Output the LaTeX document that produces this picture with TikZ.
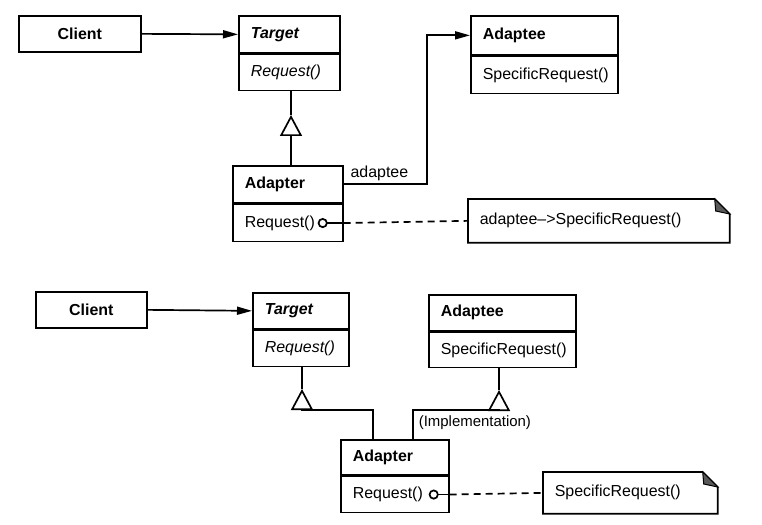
\documentclass[tikz,border=0pt]{standalone}
\usepackage{fontspec}
\setmainfont{Liberation Sans}
\usetikzlibrary{arrows.meta,positioning}

\newcommand{\drawnote}[1]{%
  \draw (#1.north west) -- ([xshift=-15bp]#1.north east) -- ([yshift=-15bp]#1.north east)
    -- (#1.south east) -- (#1.south west) -- cycle;
  \filldraw[fill=black!65, line width=1bp] ([xshift=-15bp]#1.north east)
    -- ([xshift=-14bp,yshift=-12bp]#1.north east) -- ([yshift=-15bp]#1.north east) -- cycle;
}

\begin{document}
\begin{tikzpicture}[
  x=1bp, y=-1bp,
  line width=1.7bp,
  every node/.style={font=\fontsize{16}{19}\selectfont, inner ysep=0pt},
  cbox/.style={draw, anchor=north west, inner xsep=12bp, align=left, text width=#1}, % class compartments
  nbox/.style={anchor=north west, inner xsep=11bp, align=left, text width=#1}, % notes
  assoc/.style={-{Triangle[length=15bp,width=8bp]}},
  inherit/.style={-{Triangle[open,length=21bp,width=22bp]}},
  ref/.style={{Circle[open,length=10bp]}-},
  refdash/.style={dash pattern=on 7bp off 5bp}
]
  \useasboundingbox (0,0) rectangle (762,525);

  % top: class adapter
  \node[cbox=98bp, align=center, minimum height=36bp] (cl1) at (18,15) {\textbf{Client}};
  \node[cbox=77bp, minimum height=37bp] (tgt1) at (238,15) {\textbf{\textit{Target}}};
  \node[cbox=77bp, minimum height=36bp] (tgt1op) at (tgt1.south west) {\textit{Request()}};
  \node[cbox=123bp, minimum height=39bp] (ade1) at (470,15) {\textbf{Adaptee}};
  \node[cbox=123bp, minimum height=37bp] (ade1op) at (ade1.south west) {SpecificRequest()};
  \node[cbox=86bp, minimum height=37bp] (adp1) at (232,165) {\textbf{Adapter}};
  \node[cbox=86bp, minimum height=37bp] (adp1op) at (adp1.south west) {Request()};
  \node[nbox=238bp, minimum height=42bp] (note1) at (468,199) {adaptee--\textgreater SpecificRequest()};
  \drawnote{note1}
  \node[anchor=south west, inner xsep=2bp, inner ysep=3bp] (lbl1) at ([xshift=4bp]adp1.east) {adaptee};

  \coordinate (inh1) at (291,115);
  \coordinate (turn1) at (427,0);
  \coordinate (dot1) at ([xshift=-26bp]adp1op.east);

  \draw[assoc] (cl1.east) -- (tgt1.west);
  \draw[inherit] (inh1 |- adp1.north) -- (inh1);
  \draw (inh1) -- (inh1 |- tgt1op.south);
  \draw[assoc] (adp1.east) -| (turn1 |- ade1.west) -- (ade1.west);
  \draw[ref] (dot1) -- (adp1op.east);
  \draw[refdash] (adp1op.east) -- (note1.west);

  % bottom: object adapter
  \node[cbox=87bp, align=center, minimum height=36bp] (cl2) at (35,291) {\textbf{Client}};
  \node[cbox=72bp, minimum height=36bp] (tgt2) at (252,292) {\textbf{\textit{Target}}};
  \node[cbox=72bp, minimum height=36bp] (tgt2op) at (tgt2.south west) {\textit{Request()}};
  \node[cbox=123bp, minimum height=36bp] (ade2) at (428,294) {\textbf{Adaptee}};
  \node[cbox=123bp, minimum height=35bp] (ade2op) at (ade2.south west) {SpecificRequest()};
  \node[cbox=84bp, minimum height=35bp] (adp2) at (340,439) {\textbf{Adapter}};
  \node[cbox=84bp, minimum height=36bp] (adp2op) at (adp2.south west) {Request()};
  \node[nbox=151bp, minimum height=40bp] (note2) at (543,472) {SpecificRequest()};
  \drawnote{note2}
  \node[anchor=north west, inner xsep=2bp, inner ysep=2bp, font=\fontsize{15}{18}\selectfont] (lbl2) at (416,413) {(Implementation)};

  \coordinate (inh2) at (302,389);
  \coordinate (inh3) at (499,390);
  \coordinate (dot2) at ([xshift=-21bp]adp2op.east);

  \draw[assoc] (cl2.east) -- (tgt2.west);
  \draw[inherit] ([xshift=-22bp]adp2.north) |- ([yshift=-21bp]inh2) -- (inh2);
  \draw (inh2) -- (inh2 |- tgt2op.south);
  \draw[inherit] ([xshift=18bp]adp2.north) |- ([yshift=-20bp]inh3) -- (inh3);
  \draw (inh3) -- (inh3 |- ade2op.south);
  \draw[ref] (dot2) -- (adp2op.east);
  \draw[refdash] (adp2op.east) -- (note2.west);
\end{tikzpicture}
\end{document}
